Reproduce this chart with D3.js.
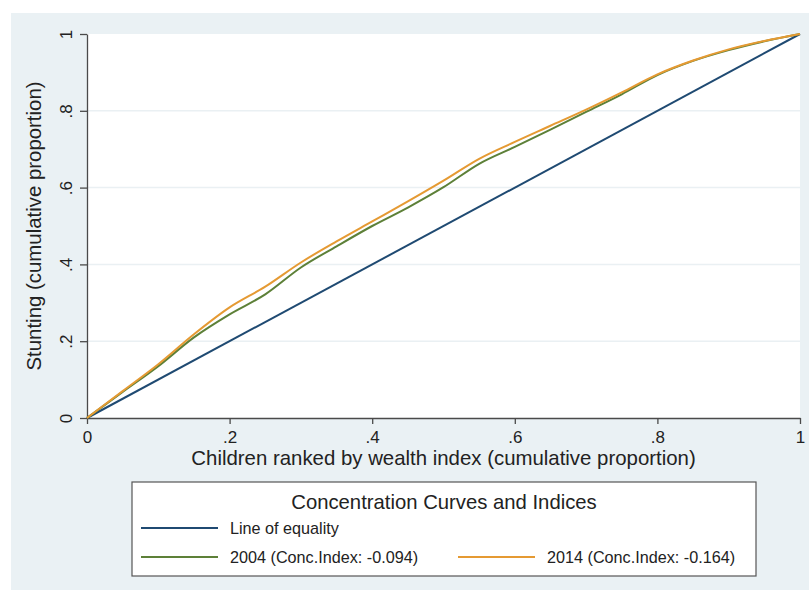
<!DOCTYPE html>
<html>
<head>
<meta charset="utf-8">
<script src="https://cdn.jsdelivr.net/npm/d3@7"></script>
<style>
  body { margin: 0; background: #fff; }
  svg text { font-family: "Liberation Sans", Arial, sans-serif; fill: #222; }
</style>
</head>
<body>
<div class="chart"></div>
<script>
// Chart data
var shares = [0, 0.05, 0.10, 0.15, 0.20, 0.25, 0.30, 0.35, 0.40, 0.45, 0.50,
              0.55, 0.60, 0.65, 0.70, 0.75, 0.80, 0.85, 0.90, 0.95, 1.0];
var curve2004 = [0, 0.068, 0.135, 0.21, 0.27, 0.322, 0.392, 0.447, 0.50, 0.548, 0.601,
                 0.662, 0.706, 0.751, 0.797, 0.843, 0.893, 0.93, 0.958, 0.981, 1];
var curve2014 = [0, 0.07, 0.14, 0.218, 0.288, 0.342, 0.405, 0.46, 0.512, 0.564, 0.618,
                 0.675, 0.719, 0.761, 0.803, 0.848, 0.895, 0.931, 0.96, 0.982, 1];
var equality = [0, 1];
var tickValues = [0, 0.2, 0.4, 0.6, 0.8, 1];
var tickLabels = ["0", ".2", ".4", ".6", ".8", "1"];
var legendLabels = ["Line of equality", "2004 (Conc.Index: -0.094)", "2014 (Conc.Index: -0.164)"];

var svgWidth = 809;
var svgHeight = 596;
var margin = { top: 34, right: 9, bottom: 178, left: 87 };
var width = svgWidth - margin.left - margin.right;
var height = svgHeight - margin.top - margin.bottom;

var colors = { equality: "#1f4a72", c2004: "#5d8038", c2014: "#e59a33" };

var svg = d3.select(".chart").append("svg")
  .attr("width", svgWidth)
  .attr("height", svgHeight);

// graph region background
svg.append("rect")
  .attr("x", 11).attr("y", 13)
  .attr("width", svgWidth - 11).attr("height", 577)
  .attr("fill", "#eaf1f4");

var chart = svg.append("g")
  .attr("transform", "translate(" + margin.left + "," + margin.top + ")");

chart.append("rect")
  .attr("width", width).attr("height", height)
  .attr("fill", "#ffffff");

var x = d3.scaleLinear().domain([0, 1]).range([0, width]);
var y = d3.scaleLinear().domain([0, 1]).range([height, 0]);

// horizontal gridlines
chart.selectAll("line.grid")
  .data(tickValues.slice(1, -1))
  .enter().append("line")
  .attr("class", "grid")
  .attr("x1", 0).attr("x2", width)
  .attr("y1", function(d) { return y(d); })
  .attr("y2", function(d) { return y(d); })
  .attr("stroke", "#eaf0f3")
  .attr("stroke-width", 1.5);

// axes
var bottomAxis = d3.axisBottom(x).tickValues(tickValues)
  .tickFormat(function(d, i) { return tickLabels[i]; })
  .tickSizeInner(6).tickSizeOuter(0).tickPadding(7);
var leftAxis = d3.axisLeft(y).tickValues(tickValues)
  .tickFormat(function(d, i) { return tickLabels[i]; })
  .tickSizeInner(7).tickSizeOuter(0);

var xAxisG = chart.append("g")
  .attr("transform", "translate(0," + height + ")")
  .call(bottomAxis);
xAxisG.selectAll("text").style("font-size", "17px").attr("fill", "#222");

var yAxisG = chart.append("g").call(leftAxis);
yAxisG.selectAll("text")
  .style("font-size", "17px")
  .attr("fill", "#222")
  .attr("x", null).attr("dy", null)
  .attr("text-anchor", "middle")
  .attr("transform", "translate(-15,0) rotate(-90)");

[xAxisG, yAxisG].forEach(function(g) {
  g.select(".domain").attr("stroke", "#4a4a4a").attr("stroke-width", 1.3);
  g.selectAll(".tick line").attr("stroke", "#4a4a4a").attr("stroke-width", 1.3);
});

// lines
var line = d3.line()
  .curve(d3.curveMonotoneX)
  .x(function(d) { return x(d[0]); })
  .y(function(d) { return y(d[1]); });

chart.append("path")
  .datum(equality.map(function(v) { return [v, v]; }))
  .attr("d", line)
  .attr("fill", "none")
  .attr("stroke", colors.equality)
  .attr("stroke-width", 2);

chart.append("path")
  .datum(shares.map(function(s, i) { return [s, curve2004[i]]; }))
  .attr("d", line)
  .attr("fill", "none")
  .attr("stroke", colors.c2004)
  .attr("stroke-width", 2);

chart.append("path")
  .datum(shares.map(function(s, i) { return [s, curve2014[i]]; }))
  .attr("d", line)
  .attr("fill", "none")
  .attr("stroke", colors.c2014)
  .attr("stroke-width", 2);

// axis titles
svg.append("text")
  .attr("x", margin.left + width / 2)
  .attr("y", 465)
  .attr("text-anchor", "middle")
  .style("font-size", "20.4px")
  .text("Children ranked by wealth index (cumulative proportion)");

svg.append("text")
  .attr("transform", "translate(41," + (margin.top + height / 2) + ") rotate(-90)")
  .attr("text-anchor", "middle")
  .style("font-size", "20.4px")
  .text("Stunting (cumulative proportion)");

// legend
var legend = svg.append("g");
legend.append("rect")
  .attr("x", 132).attr("y", 482)
  .attr("width", 624).attr("height", 94)
  .attr("fill", "#ffffff")
  .attr("stroke", "#555")
  .attr("stroke-width", 1.2);

legend.append("text")
  .attr("x", 444).attr("y", 509)
  .attr("text-anchor", "middle")
  .style("font-size", "20.3px")
  .text("Concentration Curves and Indices");

var legendItems = [
  { label: legendLabels[0], color: colors.equality, x: 141, y: 528 },
  { label: legendLabels[1], color: colors.c2004, x: 141, y: 557 },
  { label: legendLabels[2], color: colors.c2014, x: 458, y: 557 }
];

var items = legend.selectAll("g.item")
  .data(legendItems)
  .enter().append("g")
  .attr("class", "item")
  .attr("transform", function(d) { return "translate(" + d.x + "," + d.y + ")"; });

items.append("line")
  .attr("x1", 0).attr("x2", 77)
  .attr("stroke", function(d) { return d.color; })
  .attr("stroke-width", 2);

items.append("text")
  .attr("x", 89).attr("y", 6)
  .style("font-size", "16.2px")
  .text(function(d) { return d.label; });
</script>
</body>
</html>
